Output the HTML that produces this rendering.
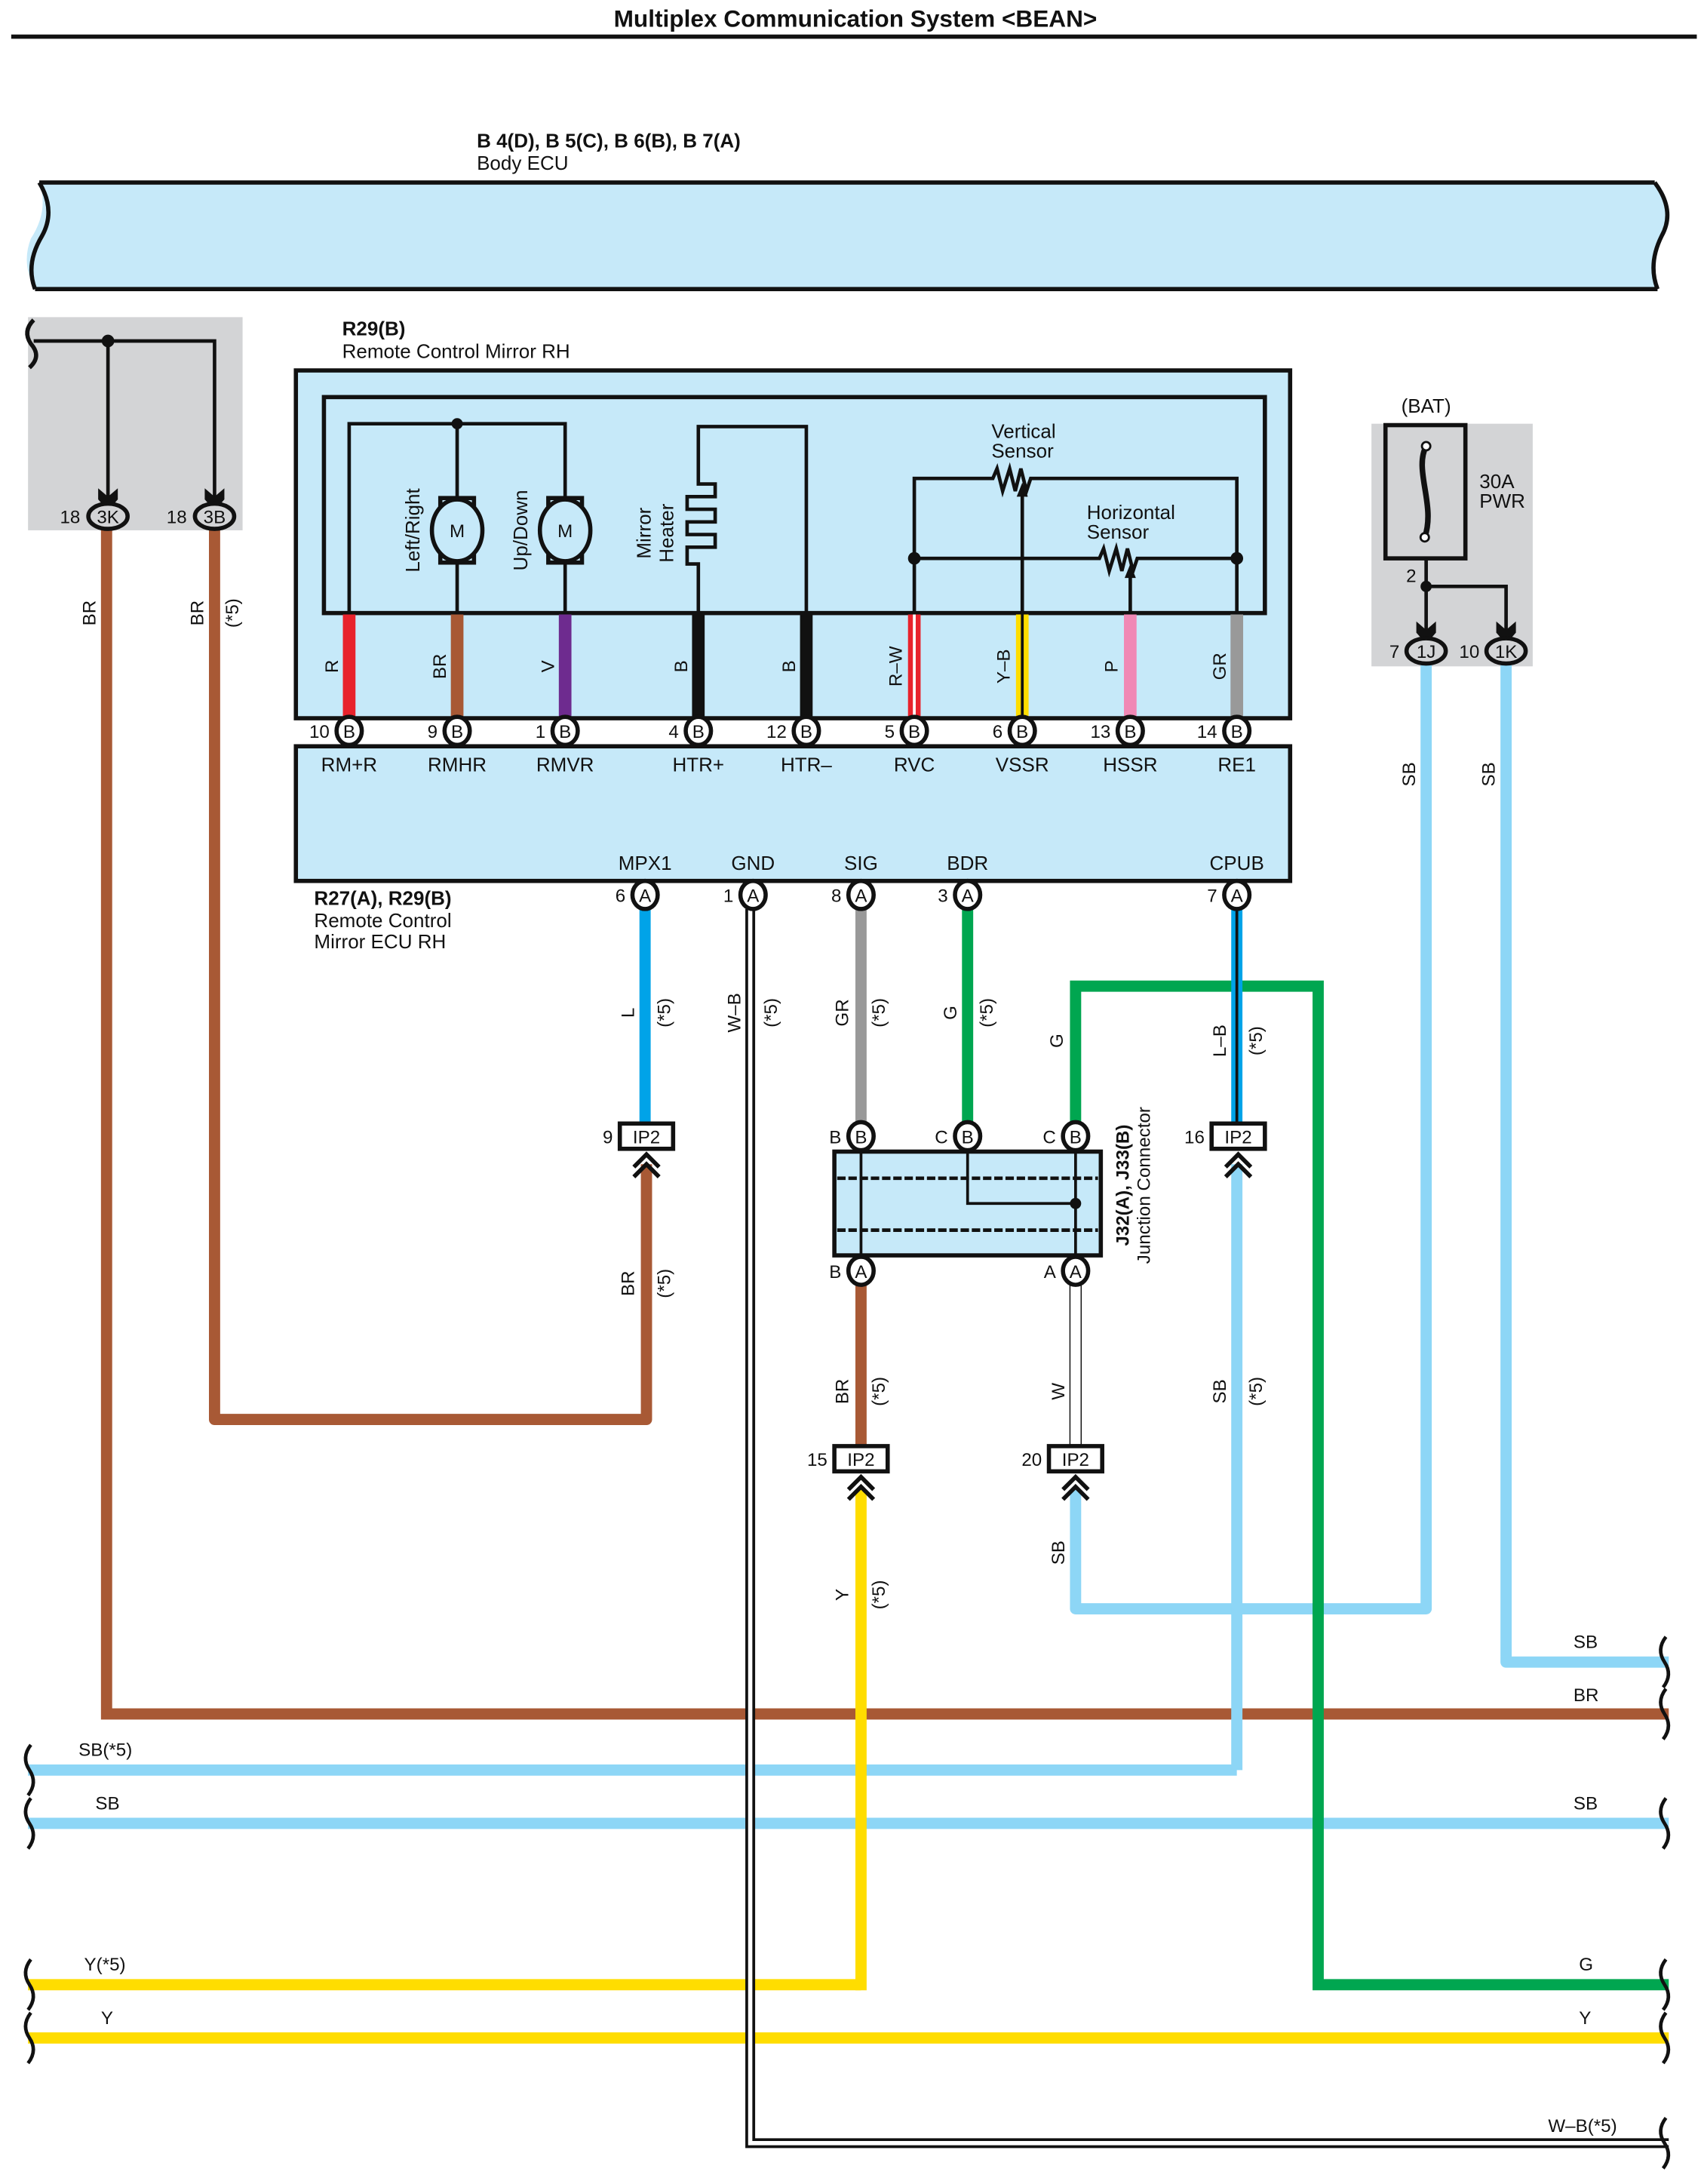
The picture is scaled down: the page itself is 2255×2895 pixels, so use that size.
<!DOCTYPE html>
<html><head><meta charset="utf-8"><style>
html,body{margin:0;padding:0;background:#fff}
svg{display:block}
text{font-family:"Liberation Sans",sans-serif;fill:#111}
</style></head><body>
<svg width="2255" height="2895" viewBox="0 0 1213 1557" xmlns="http://www.w3.org/2000/svg">
<defs>
<g id="chevUp"><polyline points="-9,8 0,-1 9,8" fill="none" stroke="#111" stroke-width="3"/><polyline points="-9,15 0,6 9,15" fill="none" stroke="#111" stroke-width="3"/></g>
<g id="arrDn"><path d="M-7,-12 L0,-6 L7,-12 L7,-4 L0,4 L-7,-4Z" fill="#111"/></g>
</defs>
<text x="610" y="19" font-size="17" font-weight="bold" text-anchor="middle">Multiplex Communication System &lt;BEAN&gt;</text>
<line x1="8" y1="26" x2="1210" y2="26" stroke="#111" stroke-width="3"/>

<text x="340" y="105" font-size="14" font-weight="bold">B 4(D), B 5(C), B 6(B), B 7(A)</text>
<text x="340" y="121" font-size="14">Body ECU</text>
<path d="M28,130 L1180,130 Q1195,150 1185,168 Q1178,188 1182,206 L25,206 Q15,188 22,170 Q35,150 28,130Z" fill="#c6e9f9"/>
<line x1="28" y1="130" x2="1180" y2="130" stroke="#111" stroke-width="3"/>
<line x1="25" y1="206" x2="1182" y2="206" stroke="#111" stroke-width="3"/>
<path d="M28,130 Q40,150 30,168 Q18,188 25,206" fill="none" stroke="#111" stroke-width="3"/>
<path d="M1180,130 Q1195,150 1185,168 Q1175,188 1182,206" fill="none" stroke="#111" stroke-width="3"/>

<!-- left gray box -->
<rect x="20" y="226" width="153" height="152" fill="#d3d4d6"/>
<path d="M24,228 Q16,236 22,245 Q30,254 21,262" fill="none" stroke="#111" stroke-width="3"/>
<polyline points="24,243 153,243 153,360" fill="none" stroke="#111" stroke-width="2.5"/>
<line x1="77" y1="243" x2="77" y2="360" stroke="#111" stroke-width="2.5"/>
<circle cx="77" cy="243" r="4.5" fill="#111"/>

<!-- wires BR from 3K, 3B -->
<polyline points="76,376 76,1222 1190,1222" fill="none" stroke="#a85935" stroke-width="8"/>
<polyline points="153,376 153,1012 461,1012 461,830" fill="none" stroke="#a85935" stroke-width="8" stroke-linejoin="round"/>
<use href="#arrDn" x="77" y="360"/><use href="#arrDn" x="153" y="360"/>
<ellipse cx="77" cy="368" rx="14" ry="9" fill="#d3d4d6" stroke="#111" stroke-width="3"/>
<text x="77" y="373" font-size="13" text-anchor="middle">3K</text><text x="50" y="373" font-size="13" text-anchor="middle">18</text>
<ellipse cx="153" cy="368" rx="14" ry="9" fill="#d3d4d6" stroke="#111" stroke-width="3"/>
<text x="153" y="373" font-size="13" text-anchor="middle">3B</text><text x="126" y="373" font-size="13" text-anchor="middle">18</text>
<text transform="translate(68,437) rotate(-90)" font-size="13" text-anchor="middle">BR</text>
<text transform="translate(145,437) rotate(-90)" font-size="13" text-anchor="middle">BR</text>
<text transform="translate(170,437) rotate(-90)" font-size="13" text-anchor="middle">(*5)</text>

<!-- R29 box -->
<text x="244" y="239" font-size="14" font-weight="bold">R29(B)</text>
<text x="244" y="255" font-size="14">Remote Control Mirror RH</text>
<rect x="211" y="264" width="709" height="248" fill="#c6e9f9" stroke="#111" stroke-width="3"/>
<rect x="211" y="532" width="709" height="96" fill="#c6e9f9" stroke="#111" stroke-width="3"/>
<rect x="231" y="283" width="671" height="154" fill="none" stroke="#111" stroke-width="3"/>

<g stroke-width="9">
<line x1="249" y1="438" x2="249" y2="512" stroke="#e8222c"/>
<line x1="326" y1="438" x2="326" y2="512" stroke="#a85935"/>
<line x1="403" y1="438" x2="403" y2="512" stroke="#6e2b8f"/>
<line x1="498" y1="438" x2="498" y2="512" stroke="#111"/>
<line x1="575" y1="438" x2="575" y2="512" stroke="#111"/>
<line x1="652" y1="438" x2="652" y2="512" stroke="#e8222c"/>
<line x1="729" y1="438" x2="729" y2="512" stroke="#ffdd00"/>
<line x1="806" y1="438" x2="806" y2="512" stroke="#f088b5"/>
<line x1="882" y1="438" x2="882" y2="512" stroke="#999"/>
</g>
<line x1="652" y1="438" x2="652" y2="512" stroke="#fff" stroke-width="2"/>
<line x1="729" y1="438" x2="729" y2="512" stroke="#111" stroke-width="2"/>

<g fill="none" stroke="#111" stroke-width="2.5">
<polyline points="249,437 249,302 403,302 403,437"/>
<line x1="326" y1="302" x2="326" y2="437"/>
<polyline points="498,437 498,402 490,402 490,390 510,390 510,381 490,381 490,372 510,372 510,363 490,363 490,354 510,354 510,345 498,345 498,304 575,304 575,437"/>
<polyline points="652,437 652,341 708,341 711,334 715,350 720,334 724,350 728,334 732,350 735,341 882,341 882,437"/>
<polyline points="652,398 784,398 787,391 791,407 796,391 800,407 804,391 808,407 811,398 882,398"/>
<line x1="729" y1="437" x2="729" y2="350"/>
<line x1="806" y1="437" x2="806" y2="408"/>
</g>
<circle cx="326" cy="302" r="4" fill="#111"/><circle cx="652" cy="398" r="4.5" fill="#111"/><circle cx="882" cy="398" r="4.5" fill="#111"/>
<path d="M725,354 L729,344 L733,354Z" fill="#111"/><path d="M802,412 L806,402 L810,412Z" fill="#111"/>
<g fill="#c6e9f9" stroke="#111" stroke-width="3">
<rect x="314" y="355" width="24" height="8"/><rect x="314" y="393" width="24" height="8"/><ellipse cx="326" cy="378" rx="18" ry="22"/>
<rect x="391" y="355" width="24" height="8"/><rect x="391" y="393" width="24" height="8"/><ellipse cx="403" cy="378" rx="18" ry="22"/>
</g>
<text x="326" y="383" font-size="13" text-anchor="middle">M</text><text x="403" y="383" font-size="13" text-anchor="middle">M</text>
<text transform="translate(299,378) rotate(-90)" font-size="14" text-anchor="middle">Left/Right</text>
<text transform="translate(376,378) rotate(-90)" font-size="14" text-anchor="middle">Up/Down</text>
<text transform="translate(464,380) rotate(-90)" font-size="14" text-anchor="middle">Mirror</text>
<text transform="translate(480,380) rotate(-90)" font-size="14" text-anchor="middle">Heater</text>
<text x="707" y="312" font-size="14">Vertical</text><text x="707" y="326" font-size="14">Sensor</text>
<text x="775" y="370" font-size="14">Horizontal</text><text x="775" y="384" font-size="14">Sensor</text>

<g font-size="13" text-anchor="middle">
<text transform="translate(241,475) rotate(-90)">R</text>
<text transform="translate(318,475) rotate(-90)">BR</text>
<text transform="translate(395,475) rotate(-90)">V</text>
<text transform="translate(490,475) rotate(-90)">B</text>
<text transform="translate(567,475) rotate(-90)">B</text>
<text transform="translate(643,475) rotate(-90)">R–W</text>
<text transform="translate(720,475) rotate(-90)">Y–B</text>
<text transform="translate(797,475) rotate(-90)">P</text>
<text transform="translate(874,475) rotate(-90)">GR</text>
</g>

<g fill="#fff" stroke="#111" stroke-width="3">
<ellipse cx="249" cy="521" rx="9" ry="10"/><ellipse cx="326" cy="521" rx="9" ry="10"/><ellipse cx="403" cy="521" rx="9" ry="10"/>
<ellipse cx="498" cy="521" rx="9" ry="10"/><ellipse cx="575" cy="521" rx="9" ry="10"/><ellipse cx="652" cy="521" rx="9" ry="10"/>
<ellipse cx="729" cy="521" rx="9" ry="10"/><ellipse cx="806" cy="521" rx="9" ry="10"/><ellipse cx="882" cy="521" rx="9" ry="10"/>
</g>
<g font-size="13" text-anchor="middle">
<text x="249" y="526">B</text><text x="326" y="526">B</text><text x="403" y="526">B</text><text x="498" y="526">B</text><text x="575" y="526">B</text><text x="652" y="526">B</text><text x="729" y="526">B</text><text x="806" y="526">B</text><text x="882" y="526">B</text>
</g>
<g font-size="13" text-anchor="end">
<text x="235" y="526">10</text><text x="312" y="526">9</text><text x="389" y="526">1</text><text x="484" y="526">4</text><text x="561" y="526">12</text><text x="638" y="526">5</text><text x="715" y="526">6</text><text x="792" y="526">13</text><text x="868" y="526">14</text>
</g>
<g font-size="14" text-anchor="middle">
<text x="249" y="550">RM+R</text><text x="326" y="550">RMHR</text><text x="403" y="550">RMVR</text><text x="498" y="550">HTR+</text><text x="575" y="550">HTR–</text><text x="652" y="550">RVC</text><text x="729" y="550">VSSR</text><text x="806" y="550">HSSR</text><text x="882" y="550">RE1</text>
<text x="460" y="620">MPX1</text><text x="537" y="620">GND</text><text x="614" y="620">SIG</text><text x="690" y="620">BDR</text><text x="882" y="620">CPUB</text>
</g>
<text x="224" y="645" font-size="14" font-weight="bold">R27(A), R29(B)</text>
<text x="224" y="661" font-size="14">Remote Control</text>
<text x="224" y="676" font-size="14">Mirror ECU RH</text>

<rect x="978" y="302" width="115" height="173" fill="#d3d4d6"/>
<rect x="988" y="303" width="57" height="95" fill="none" stroke="#111" stroke-width="3"/>
<path d="M1017,318 C1008,335 1024,360 1016,383" fill="none" stroke="#111" stroke-width="4"/>
<circle cx="1017" cy="318" r="3" fill="#fff" stroke="#111" stroke-width="1.5"/><circle cx="1016" cy="383" r="3" fill="#fff" stroke="#111" stroke-width="1.5"/>
<text x="1017" y="294" font-size="14" text-anchor="middle">(BAT)</text>
<text x="1055" y="348" font-size="14">30A</text><text x="1055" y="362" font-size="14">PWR</text>
<polyline points="1017,398 1017,455" fill="none" stroke="#111" stroke-width="2.5"/>
<polyline points="1017,418 1074,418 1074,455" fill="none" stroke="#111" stroke-width="2.5"/>
<circle cx="1017" cy="418" r="4" fill="#111"/><text x="1010" y="415" font-size="13" text-anchor="end">2</text>

<polyline points="1017,472 1017,1147 767,1147 767,1062" fill="none" stroke="#8dd6f6" stroke-width="8" stroke-linejoin="round"/>
<polyline points="1074,472 1074,1185 1190,1185" fill="none" stroke="#8dd6f6" stroke-width="8" stroke-linejoin="round"/>
<use href="#arrDn" x="1017" y="455"/><use href="#arrDn" x="1074" y="455"/>
<ellipse cx="1017" cy="464" rx="14" ry="9" fill="#d3d4d6" stroke="#111" stroke-width="3"/><text x="1017" y="469" font-size="13" text-anchor="middle">1J</text><text x="998" y="469" font-size="13" text-anchor="end">7</text>
<ellipse cx="1074" cy="464" rx="14" ry="9" fill="#d3d4d6" stroke="#111" stroke-width="3"/><text x="1074" y="469" font-size="13" text-anchor="middle">1K</text><text x="1055" y="469" font-size="13" text-anchor="end">10</text>
<text transform="translate(1009,552) rotate(-90)" font-size="13" text-anchor="middle">SB</text>
<text transform="translate(1066,552) rotate(-90)" font-size="13" text-anchor="middle">SB</text>

<line x1="20" y1="1262" x2="882" y2="1262" stroke="#8dd6f6" stroke-width="8"/>
<line x1="20" y1="1300" x2="1190" y2="1300" stroke="#8dd6f6" stroke-width="8"/>
<line x1="20" y1="1415" x2="614" y2="1415" stroke="#ffdd00" stroke-width="8"/>
<line x1="20" y1="1453" x2="1190" y2="1453" stroke="#ffdd00" stroke-width="8"/>
<polyline points="767,800 767,703 940,703 940,1415 1190,1415" fill="none" stroke="#00a650" stroke-width="8"/>

<line x1="460" y1="648" x2="460" y2="800" stroke="#00a3e8" stroke-width="8"/>
<line x1="614" y1="648" x2="614" y2="800" stroke="#999" stroke-width="8"/>
<line x1="690" y1="648" x2="690" y2="800" stroke="#00a650" stroke-width="8"/>
<line x1="882" y1="648" x2="882" y2="800" stroke="#00a3e8" stroke-width="8"/>
<line x1="882" y1="648" x2="882" y2="800" stroke="#111" stroke-width="2"/>
<polyline points="882,830 882,1262" fill="none" stroke="#8dd6f6" stroke-width="8"/>
<line x1="614" y1="915" x2="614" y2="1030" stroke="#a85935" stroke-width="8"/>
<line x1="614" y1="1062" x2="614" y2="1419" stroke="#ffdd00" stroke-width="8"/>
<rect x="763" y="915" width="8" height="115" fill="#fff" stroke="#111" stroke-width="0.8"/>
<polyline points="535,648 535,1528 1190,1528" fill="none" stroke="#111" stroke-width="7"/>
<polyline points="535,648 535,1528 1190,1528" fill="none" stroke="#fff" stroke-width="3"/>

<g fill="#fff" stroke="#111" stroke-width="3">
<ellipse cx="460" cy="638" rx="9" ry="10"/><ellipse cx="537" cy="638" rx="9" ry="10"/><ellipse cx="614" cy="638" rx="9" ry="10"/><ellipse cx="690" cy="638" rx="9" ry="10"/><ellipse cx="882" cy="638" rx="9" ry="10"/>
</g>
<g font-size="13" text-anchor="middle"><text x="460" y="643">A</text><text x="537" y="643">A</text><text x="614" y="643">A</text><text x="690" y="643">A</text><text x="882" y="643">A</text></g>
<g font-size="13" text-anchor="end"><text x="446" y="643">6</text><text x="523" y="643">1</text><text x="600" y="643">8</text><text x="676" y="643">3</text><text x="868" y="643">7</text></g>

<g font-size="13" text-anchor="middle">
<text transform="translate(452,722) rotate(-90)">L</text><text transform="translate(478,722) rotate(-90)">(*5)</text>
<text transform="translate(528,722) rotate(-90)">W–B</text><text transform="translate(554,722) rotate(-90)">(*5)</text>
<text transform="translate(605,722) rotate(-90)">GR</text><text transform="translate(631,722) rotate(-90)">(*5)</text>
<text transform="translate(682,722) rotate(-90)">G</text><text transform="translate(708,722) rotate(-90)">(*5)</text>
<text transform="translate(758,742) rotate(-90)">G</text>
<text transform="translate(874,742) rotate(-90)">L–B</text><text transform="translate(900,742) rotate(-90)">(*5)</text>
<text transform="translate(452,915) rotate(-90)">BR</text><text transform="translate(478,915) rotate(-90)">(*5)</text>
<text transform="translate(605,992) rotate(-90)">BR</text><text transform="translate(631,992) rotate(-90)">(*5)</text>
<text transform="translate(759,992) rotate(-90)">W</text>
<text transform="translate(874,992) rotate(-90)">SB</text><text transform="translate(900,992) rotate(-90)">(*5)</text>
<text transform="translate(605,1137) rotate(-90)">Y</text><text transform="translate(631,1137) rotate(-90)">(*5)</text>
<text transform="translate(759,1107) rotate(-90)">SB</text>
</g>

<rect x="595" y="821" width="190" height="74" fill="#c6e9f9" stroke="#111" stroke-width="3"/>
<line x1="597" y1="840" x2="783" y2="840" stroke="#111" stroke-width="2.5" stroke-dasharray="6,2"/>
<line x1="597" y1="877" x2="783" y2="877" stroke="#111" stroke-width="2.5" stroke-dasharray="6,2"/>
<line x1="614" y1="821" x2="614" y2="895" stroke="#111" stroke-width="2"/>
<line x1="767" y1="821" x2="767" y2="895" stroke="#111" stroke-width="2"/>
<polyline points="690,821 690,858 767,858" fill="none" stroke="#111" stroke-width="2"/>
<circle cx="767" cy="858" r="4" fill="#111"/>
<g fill="#fff" stroke="#111" stroke-width="3">
<ellipse cx="614" cy="810" rx="9" ry="10"/><ellipse cx="690" cy="810" rx="9" ry="10"/><ellipse cx="767" cy="810" rx="9" ry="10"/>
<ellipse cx="614" cy="906" rx="9" ry="10"/><ellipse cx="767" cy="906" rx="9" ry="10"/>
</g>
<g font-size="13" text-anchor="middle"><text x="614" y="815">B</text><text x="690" y="815">B</text><text x="767" y="815">B</text><text x="614" y="911">A</text><text x="767" y="911">A</text></g>
<g font-size="13" text-anchor="end"><text x="600" y="815">B</text><text x="676" y="815">C</text><text x="753" y="815">C</text><text x="600" y="911">B</text><text x="753" y="911">A</text></g>
<text transform="translate(805,845) rotate(-90)" font-size="13" font-weight="bold" text-anchor="middle">J32(A), J33(B)</text>
<text transform="translate(820,845) rotate(-90)" font-size="13" text-anchor="middle">Junction Connector</text>

<g fill="#fff" stroke="#111" stroke-width="3">
<rect x="442" y="801" width="38" height="18"/><rect x="864" y="801" width="38" height="18"/>
<rect x="595" y="1031" width="38" height="18"/><rect x="748" y="1031" width="38" height="18"/>
</g>
<g font-size="13" text-anchor="middle"><text x="461" y="815">IP2</text><text x="883" y="815">IP2</text><text x="614" y="1045">IP2</text><text x="767" y="1045">IP2</text></g>
<g font-size="13" text-anchor="end"><text x="437" y="815">9</text><text x="859" y="815">16</text><text x="590" y="1045">15</text><text x="743" y="1045">20</text></g>
<use href="#chevUp" x="461" y="824"/><use href="#chevUp" x="883" y="824"/><use href="#chevUp" x="614" y="1054"/><use href="#chevUp" x="767" y="1054"/>

<g fill="none" stroke="#111" stroke-width="2.5">
<path d="M22,1244 Q15,1253 21,1262 Q27,1271 20,1280"/>
<path d="M22,1282 Q15,1291 21,1300 Q27,1309 20,1318"/>
<path d="M22,1397 Q15,1406 21,1415 Q27,1424 20,1433"/>
<path d="M22,1435 Q15,1444 21,1453 Q27,1462 20,1471"/>
<path d="M1188,1167 Q1181,1176 1187,1185 Q1193,1194 1186,1203"/>
<path d="M1188,1204 Q1181,1213 1187,1222 Q1193,1231 1186,1240"/>
<path d="M1188,1282 Q1181,1291 1187,1300 Q1193,1309 1186,1318"/>
<path d="M1188,1397 Q1181,1406 1187,1415 Q1193,1424 1186,1433"/>
<path d="M1188,1435 Q1181,1444 1187,1453 Q1193,1462 1186,1471"/>
<path d="M1188,1510 Q1181,1519 1187,1528 Q1193,1537 1186,1546"/>
</g>
<g font-size="13">
<text x="56" y="1252">SB(*5)</text><text x="68" y="1290">SB</text><text x="60" y="1405">Y(*5)</text><text x="72" y="1443">Y</text>
<text x="1122" y="1175">SB</text><text x="1122" y="1213">BR</text><text x="1122" y="1290">SB</text><text x="1126" y="1405">G</text><text x="1126" y="1443">Y</text><text x="1104" y="1520">W–B(*5)</text>
</g>
</svg>
</body></html>
